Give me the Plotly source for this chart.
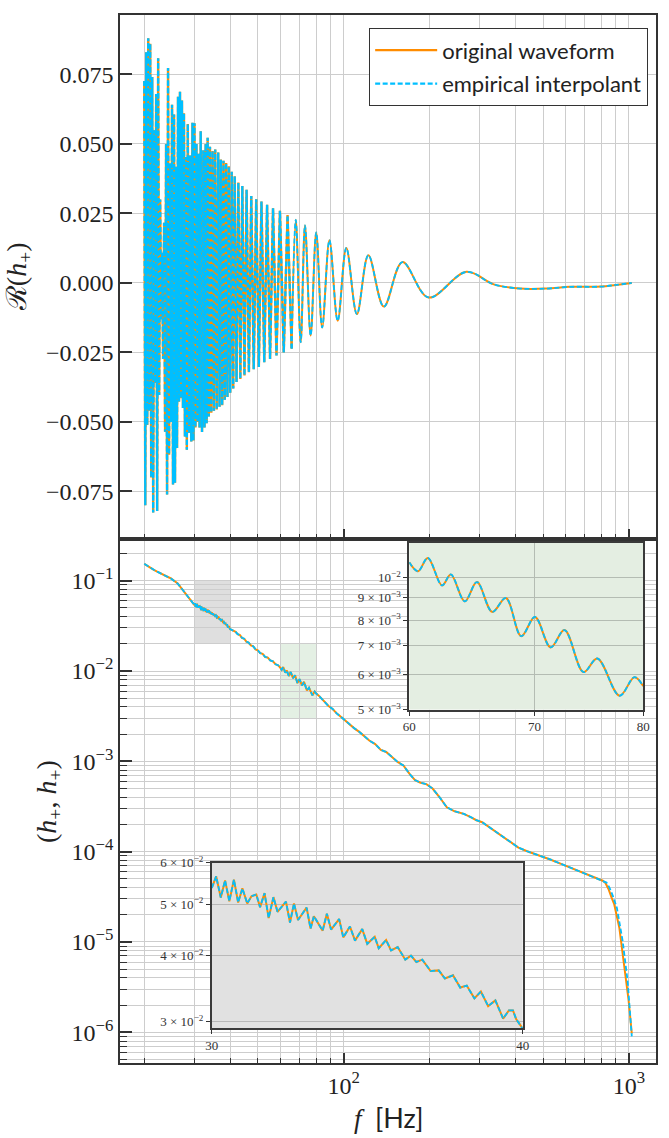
import math
import plotly.graph_objects as go

re_dense_freq = [
    20.00, 20.16, 20.32, 20.48, 20.65, 20.81, 20.98, 21.15, 21.32, 21.49,
    21.66, 21.84, 22.01, 22.19, 22.37, 22.55, 22.73, 22.91, 23.10, 23.28,
    23.47, 23.66, 23.85, 24.04, 24.23, 24.43, 24.62, 24.82, 25.02, 25.22,
    25.43, 25.63, 25.84, 26.05, 26.26, 26.47, 26.68, 26.90, 27.11, 27.33,
    27.55, 27.77,
    27.97, 28.20, 28.42, 28.69, 28.96, 29.23, 29.51, 29.75, 29.99, 30.23,
    30.47, 30.72, 30.96, 31.25, 31.54, 31.88, 32.22, 32.52, 32.83, 33.09,
    33.36, 33.67, 33.99, 34.35, 34.72, 35.09, 35.46, 35.89, 36.33, 36.72,
    37.11, 37.51, 37.91, 38.31, 38.72, 39.14, 39.56, 40.03, 40.52, 41.01,
    41.50, 42.12, 42.74, 43.43, 44.13, 44.90, 45.68, 46.54, 47.44, 48.39,
    49.37, 50.43, 51.51, 52.69, 53.90, 55.21, 56.55, 58.15, 59.80, 61.66,
    63.58]
re_dense_val = [
    0.0727, -0.0800, 0.0830, -0.0511, 0.0880, -0.0460, 0.0861, -0.0700, 0.0741, -0.0826,
    0.0549, -0.0360, 0.0680, -0.0820, 0.0808, -0.0403, 0.0300, -0.0130, 0.0109, -0.0273,
    0.0217, -0.0535, 0.0500, -0.0761, 0.0773, -0.0618, 0.0430, -0.0500, 0.0641, -0.0725,
    0.0606, -0.0719, 0.0418, -0.0594, 0.0670, -0.0427, 0.0688, -0.0415, 0.0656, -0.0450,
    0.0611, -0.0552,
    0.0453, -0.0600, 0.0572, -0.0540, 0.0459, -0.0570, 0.0576, -0.0567, 0.0575, -0.0520,
    0.0500, -0.0500, 0.0465, -0.0520, 0.0546, -0.0536, 0.0477, -0.0520, 0.0500, -0.0505,
    0.0522, -0.0480, 0.0490, -0.0467, 0.0475, -0.0460, 0.0480, -0.0455, 0.0469, -0.0445,
    0.0444, -0.0440, 0.0440, -0.0420, 0.0432, -0.0410, 0.0420, -0.0395, 0.0400, -0.0380,
    0.0384, -0.0356, 0.0361, -0.0345, 0.0349, -0.0333, 0.0335, -0.0321, 0.0313, -0.0310,
    0.0301, -0.0302, 0.0293, -0.0285, 0.0281, -0.0273, 0.0269, -0.0261, 0.0260, -0.0250,
    0.0244]
re_smooth_freq = [65.73, 67.96, 70.70, 73.20, 76.61, 80.15, 84.09, 89.18, 95.32, 102.2,
                  111.3, 122.1, 138.4, 160.7, 198.4, 269.5, 336.0, 416.0, 515.0, 620.0,
                  799.0, 901.0, 1024.0]
re_smooth_val = [-0.0236, 0.0227, -0.0213, 0.0207, -0.0189, 0.0182, -0.0160, 0.0154, -0.0136, 0.0126,
                 -0.0112, 0.0100, -0.0085, 0.0075, -0.0052, 0.0040, -0.0005, -0.0020, -0.0020, -0.0014,
                 -0.0013, -0.0007, 0.0]

# ---- bottom panel: (h+, h+) ----
norm_low_freq = [20.0, 20.5, 21.0, 21.6, 22.2, 22.8, 23.5, 24.2, 24.8, 25.5,
                 26.2, 26.8, 27.5, 28.2, 28.8, 29.4]
norm_low_val = [0.154, 0.146, 0.141, 0.132, 0.126, 0.120, 0.116, 0.110, 0.106, 0.099,
                0.093, 0.085, 0.077, 0.069, 0.063, 0.058]

gray_freq = [30.00, 30.12, 30.25, 30.37, 30.49, 30.62, 30.74, 30.86, 31.00, 31.12,
             31.26, 31.37, 31.50, 31.62, 31.76, 31.88, 32.13, 32.25, 32.37, 32.49,
             32.75, 32.87, 32.97, 33.24, 33.37, 33.50, 33.75, 33.88, 34.09, 34.25,
             34.48, 34.64, 34.88, 35.01, 35.25, 35.41, 35.63, 35.88, 36.07, 36.25,
             36.45, 36.73, 37.01, 37.22, 37.50, 37.75, 37.98, 38.25, 38.48, 38.74,
             39.00, 39.28, 39.49, 39.64, 39.76, 40.00]
gray_val = [0.0537, 0.0565, 0.0515, 0.0555, 0.0507, 0.0557, 0.0504, 0.0536, 0.0502, 0.0518,
            0.0522, 0.0494, 0.0525, 0.0471, 0.0516, 0.0484, 0.0506, 0.0462, 0.0502, 0.0467,
            0.0493, 0.0450, 0.0475, 0.0446, 0.0480, 0.0448, 0.0469, 0.0433, 0.0454, 0.0427,
            0.0449, 0.0421, 0.0434, 0.0413, 0.0428, 0.0409, 0.0415, 0.0393, 0.0400, 0.0389,
            0.0393, 0.0374, 0.0375, 0.0362, 0.0367, 0.0348, 0.0351, 0.0332, 0.0342, 0.0321,
            0.0329, 0.0304, 0.0315, 0.0315, 0.0303, 0.0291]

norm_mid_freq = [41.0, 41.8, 42.5, 43.3, 44.0, 44.8, 45.6, 46.4, 47.3, 48.2,
                 49.1, 50.0, 51.0, 52.0, 53.1, 54.2, 55.3, 56.5, 57.7, 58.9]
norm_mid_val = [0.0280, 0.0272, 0.0256, 0.0250, 0.0233, 0.0228, 0.0212, 0.0207, 0.0192, 0.0188,
                0.0174, 0.0170, 0.0158, 0.0155, 0.0143, 0.0141, 0.0131, 0.0128, 0.0119, 0.0116]

green_freq = [60.00, 60.65, 61.39, 62.47, 63.15, 64.24, 65.21, 66.45, 67.57, 68.86,
              70.03, 71.40, 72.62, 74.34, 75.61, 77.71, 79.14, 80.00]
green_val = [0.01083, 0.01033, 0.01108, 0.00959, 0.01016, 0.00882, 0.00976, 0.00835, 0.00898, 0.00735,
             0.00813, 0.00693, 0.00759, 0.00609, 0.00654, 0.00538, 0.00593, 0.00566]

norm_high_freq = [82.0, 84.0, 86.5, 88.5, 91.5, 94.5, 98.0, 101.5, 105.0, 109.0,
                  113.5, 118.0, 123.0, 129.0, 135.0, 141.0, 148.0, 155.0, 162.0, 170.0,
                  178.0, 186.0, 195.0, 205.0, 217.0, 230.0, 245.0, 264.0, 280.0, 292.0,
                  306.0, 335.0, 370.0, 410.0, 440.0, 480.0, 530.0, 590.0, 650.0, 720.0,
                  770.0, 810.0]
norm_high_val = [0.0053, 0.0049, 0.0045, 0.0041, 0.0038, 0.0034, 0.0031, 0.0028, 0.0026, 0.00232,
                 0.00212, 0.00191, 0.00170, 0.00155, 0.00134, 0.00127, 0.00110, 0.00098, 0.00090, 0.00073,
                 0.00062, 0.00058, 0.00056, 0.00050, 0.00040, 0.00031, 0.00028, 0.000262, 0.000240, 0.000223,
                 0.000212, 0.000173, 0.000138, 0.000111, 0.000101, 0.000092, 0.000082, 0.0000715, 0.000063, 0.0000555,
                 0.000051, 0.0000477]

tail_orig_freq = [828.0, 850.0, 870.0, 889.0, 926.0, 963.0, 998.0, 1024.0]
tail_orig_val = [4.5e-5, 3.8e-5, 3.1e-5, 2.6e-5, 1.44e-5, 5.7e-6, 2.25e-6, 9.7e-7]
tail_interp_freq = [835.0, 855.0, 880.0, 908.0, 951.0, 990.0, 1024.0]
tail_interp_val = [4.55e-5, 4.0e-5, 3.2e-5, 2.38e-5, 1.03e-5, 3.7e-6, 9.0e-7]

ORANGE = "#ff8c00"
BLUE = "#00bfff"
GRID = "#cdcdcd"
SPINE = "#333333"
SERIF = "Liberation Serif"
SANS = "Lato"
DASH = "5px,2.5px"

fig = go.Figure()

# top panel (dense chirp drawn straight, the slow part smoothed)
dense_x = re_dense_freq + re_smooth_freq[:1]
dense_y = re_dense_val + re_smooth_val[:1]
fig.add_trace(go.Scatter(x=dense_x, y=dense_y, xaxis="x2", yaxis="y2", mode="lines",
                         name="original waveform", legendgroup="orig",
                         line=dict(color=ORANGE, width=2.4)))
fig.add_trace(go.Scatter(x=re_smooth_freq, y=re_smooth_val, xaxis="x2", yaxis="y2", mode="lines",
                         legendgroup="orig", showlegend=False,
                         line=dict(color=ORANGE, width=2, shape="spline")))
fig.add_trace(go.Scatter(x=dense_x, y=dense_y, xaxis="x2", yaxis="y2", mode="lines",
                         name="empirical interpolant", legendgroup="interp",
                         line=dict(color=BLUE, width=2.3, dash=DASH)))
fig.add_trace(go.Scatter(x=re_smooth_freq, y=re_smooth_val, xaxis="x2", yaxis="y2", mode="lines",
                         legendgroup="interp", showlegend=False,
                         line=dict(color=BLUE, width=1.8, dash=DASH, shape="spline")))

# bottom panel
body_f = norm_low_freq + gray_freq + norm_mid_freq + green_freq + norm_high_freq
body_v = norm_low_val + gray_val + norm_mid_val + green_val + norm_high_val
fig.add_trace(go.Scatter(x=body_f + tail_orig_freq, y=body_v + tail_orig_val, mode="lines",
                         showlegend=False, line=dict(color=ORANGE, width=2)))
fig.add_trace(go.Scatter(x=body_f + tail_interp_freq, y=body_v + tail_interp_val, mode="lines",
                         showlegend=False, line=dict(color=BLUE, width=1.8, dash=DASH)))

# insets
for xa, ya, fx, vy, shp in [("x3", "y3", green_freq, green_val, "spline"),
                            ("x4", "y4", gray_freq, gray_val, "linear")]:
    fig.add_trace(go.Scatter(x=fx, y=vy, xaxis=xa, yaxis=ya, mode="lines", showlegend=False,
                             line=dict(color=ORANGE, width=2, shape=shp)))
    fig.add_trace(go.Scatter(x=fx, y=vy, xaxis=xa, yaxis=ya, mode="lines", showlegend=False,
                             line=dict(color=BLUE, width=1.8, dash=DASH, shape=shp)))

minor_f = [m * d for d in (10, 100) for m in range(2, 10)]
minor_y = [m * 10.0 ** e for e in range(-7, 0) for m in range(2, 10)]
sup = lambda e: "10<sup>\u2212%d</sup>" % e

main_x = dict(type="log", range=[math.log10(16.44), math.log10(1245)], ticks="inside", ticklen=10,
              tickwidth=1.5, tickcolor=SPINE, showline=True, linecolor=SPINE, linewidth=1.5,
              mirror=True, showgrid=True, gridcolor=GRID, gridwidth=1.2, zeroline=False,
              tickvals=[100, 1000], ticktext=["10<sup>2</sup>", "10<sup>3</sup>"],
              tickfont=dict(family=SERIF, size=24, color="#222"),
              minor=dict(tickvals=minor_f, ticks="inside", ticklen=5, tickwidth=1.3, tickcolor=SPINE,
                         showgrid=True, gridcolor=GRID, gridwidth=1.2))

inset_ax = dict(type="log", ticks="outside", ticklen=4, tickwidth=1, tickcolor=SPINE, showline=True,
                linecolor="#3a3a3a", linewidth=1.8, mirror=True, showgrid=True, zeroline=False,
                tickfont=dict(family=SERIF, size=13, color="#333"))

fig.update_layout(
    width=669, height=1138, plot_bgcolor="white", paper_bgcolor="white",
    margin=dict(l=120, r=6, t=7, b=75),
    xaxis=dict(main_x, domain=[0, 1], anchor="y"),
    xaxis2=dict(main_x, domain=[0, 1], anchor="y2", matches="x", showticklabels=False),
    yaxis=dict(type="log", domain=[0, 0.5], anchor="x", range=[-6.34, -0.538],
               ticks="inside", ticklen=12, tickwidth=1.5, tickcolor=SPINE, showline=True,
               linecolor=SPINE, linewidth=1.5, mirror=True, showgrid=True, gridcolor=GRID,
               gridwidth=1.2, zeroline=False,
               tickvals=[1e-6, 1e-5, 1e-4, 1e-3, 1e-2, 1e-1], ticktext=[sup(e) for e in (6, 5, 4, 3, 2, 1)],
               tickfont=dict(family=SERIF, size=24, color="#222"),
               minor=dict(tickvals=minor_y, ticks="inside", ticklen=7, tickwidth=1.3, tickcolor=SPINE,
                          showgrid=True, gridcolor=GRID, gridwidth=1.2)),
    yaxis2=dict(domain=[0.5, 1], anchor="x2", range=[-0.0921, 0.0964], ticks="inside", ticklen=12,
                tickwidth=1.5, tickcolor=SPINE, showline=True, linecolor=SPINE, linewidth=1.5,
                mirror=True, showgrid=True, gridcolor=GRID, gridwidth=1.2, zeroline=False,
                tickvals=[-0.075, -0.05, -0.025, 0, 0.025, 0.05, 0.075],
                ticktext=["\u22120.075", "\u22120.050", "\u22120.025", "0.000", "0.025", "0.050", "0.075"],
                tickfont=dict(family=SERIF, size=24, color="#222")),
    xaxis3=dict(inset_ax, domain=[0.5396, 0.9761], anchor="y3", range=[math.log10(60), math.log10(80)],
                tickvals=[60, 70, 80], ticktext=["60", "70", "80"], gridcolor="#b4bcb3"),
    yaxis3=dict(inset_ax, domain=[0.3371, 0.4962], anchor="x3", range=[math.log10(0.005), -1.9215],
                tickvals=[0.005, 0.006, 0.007, 0.008, 0.009, 0.01], gridcolor="#b4bcb3",
                ticktext=["%d \u00d7 10<sup>\u22123</sup>" % m for m in (5, 6, 7, 8, 9)] + [sup(2)]),
    xaxis4=dict(inset_ax, domain=[0.1713, 0.7514], anchor="y4", range=[math.log10(30), math.log10(40)],
                tickvals=[30, 40], ticktext=["30", "40"], gridcolor="#b8b8b8"),
    yaxis4=dict(inset_ax, domain=[0.0331, 0.1913], anchor="x4",
                range=[math.log10(0.02914), math.log10(0.06)], gridcolor="#b8b8b8",
                tickvals=[0.03, 0.04, 0.05, 0.06],
                ticktext=["%d \u00d7 10<sup>\u22122</sup>" % m for m in (3, 4, 5, 6)]),
    legend=dict(x=0.985, y=0.9875, xanchor="right", yanchor="top", bgcolor="white",
                bordercolor=SPINE, borderwidth=1.2, font=dict(family=SANS, size=22, color="#222"),
                itemwidth=62, tracegroupgap=2, traceorder="grouped"),
    shapes=[
        dict(type="rect", xref="x", yref="y", x0=30, x1=40, y0=0.02, y1=0.1, layer="below",
             fillcolor="rgba(150,150,150,0.3)", line=dict(width=0)),
        dict(type="rect", xref="x", yref="y", x0=60, x1=80, y0=0.003, y1=0.02, layer="below",
             fillcolor="rgba(120,180,120,0.2)", line=dict(width=0)),
        dict(type="rect", xref="x3", yref="y3", x0=60, x1=80, y0=0.005, y1=0.012, layer="below",
             fillcolor="#e4eee2", line=dict(width=0)),
        dict(type="rect", xref="x4", yref="y4", x0=30, x1=40, y0=0.02914, y1=0.06, layer="below",
             fillcolor="#e1e1e1", line=dict(width=0)),
    ],
    annotations=[
        dict(text="\u211b(<i>h</i><sub>+</sub>)", xref="paper", yref="paper", x=-0.19, y=0.75,
             xanchor="center", yanchor="middle", textangle=-90, showarrow=False,
             font=dict(family=SERIF, size=28, color="#222")),
        dict(text="(<i>h</i><sub>+</sub>, <i>h</i><sub>+</sub>)", xref="paper", yref="paper",
             x=-0.1344, y=0.25, xanchor="center", yanchor="middle", textangle=-90, showarrow=False,
             font=dict(family=SERIF, size=28, color="#222")),
        dict(text="<i>f</i>  <span style=\"font-family:Lato\">[Hz]</span>", xref="paper", yref="paper",
             x=0.5, y=-0.052, xanchor="center", yanchor="middle", showarrow=False,
             font=dict(family=SERIF, size=27, color="#222")),
    ],
)

# drop the browser's default 8px page margin so the figure sits at the window origin
fig.write_html("out.html", config={"displayModeBar": False},
               post_script="document.body.style.margin = '0px';")
